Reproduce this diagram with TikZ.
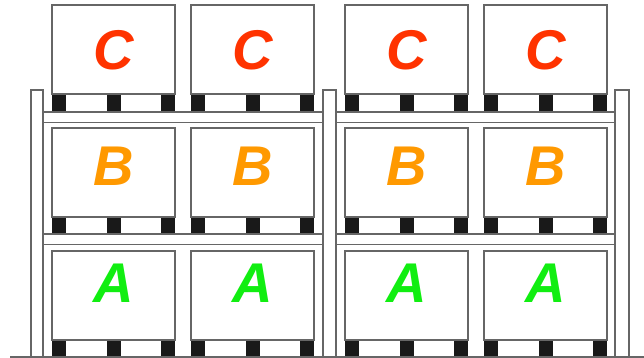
\documentclass[tikz,border=0pt]{standalone}
\usepackage{fontspec}
\setmainfont{Liberation Sans}
\definecolor{rackgray}{HTML}{666666}
\definecolor{letterC}{HTML}{FF3300}
\definecolor{letterB}{HTML}{FF9900}
\definecolor{letterA}{HTML}{11EE11}
\tikzset{
    crate/.style={draw=rackgray, line width=1.2pt, fill=white, minimum width=123pt, minimum height=89pt, inner sep=0pt},
    foot/.style={fill=black!90, draw=none, minimum width=14pt, minimum height=17.5pt, inner sep=0pt},
    tag/.style={font=\fontsize{56}{56}\selectfont\bfseries\itshape, inner sep=0pt},
    rack/.style={draw=rackgray, line width=1.1pt, fill=white},
}
\begin{document}
\begin{tikzpicture}[x=1pt, y=-1pt]
    \useasboundingbox (0,0) rectangle (644,358);

    % crates on pallets, one row per level
    \foreach \row/\top/\txt/\col/\dy in {c/5/C/letterC/45, b/128/B/letterB/38, a/251/A/letterA/32} {
        \foreach \i/\left in {1/52, 2/191, 3/345, 4/484} {
            \node[crate] (\row\i) at (\left+61.5, \top+44.5) {};
            \node[tag, text=\col] (\row\i-tag) at (\left+61.5, \top+\dy) {\txt};
            % pallet feet
            \node[foot, anchor=north west] (\row\i-l) at (\row\i.south west) {};
            \node[foot, anchor=north] (\row\i-m) at (\row\i.south) {};
            \node[foot, anchor=north east] (\row\i-r) at (\row\i.south east) {};
        }
    }

    % beams
    \foreach \y in {112, 234} {
        \draw[rack] (43,\y) rectangle (323,\y+10.5);
        \draw[rack] (336,\y) rectangle (615,\y+10.5);
    }

    % uprights
    \draw[rack] (31,358) -- (31,90) -- (43,90) -- (43,358);
    \draw[rack] (323,358) -- (323,90) -- (336,90) -- (336,358);
    \draw[rack] (615,358) -- (615,90) -- (629,90) -- (629,358);

    % floor
    \draw[rackgray, line width=1.1pt] (10,357) -- (644,357);
\end{tikzpicture}
\end{document}
